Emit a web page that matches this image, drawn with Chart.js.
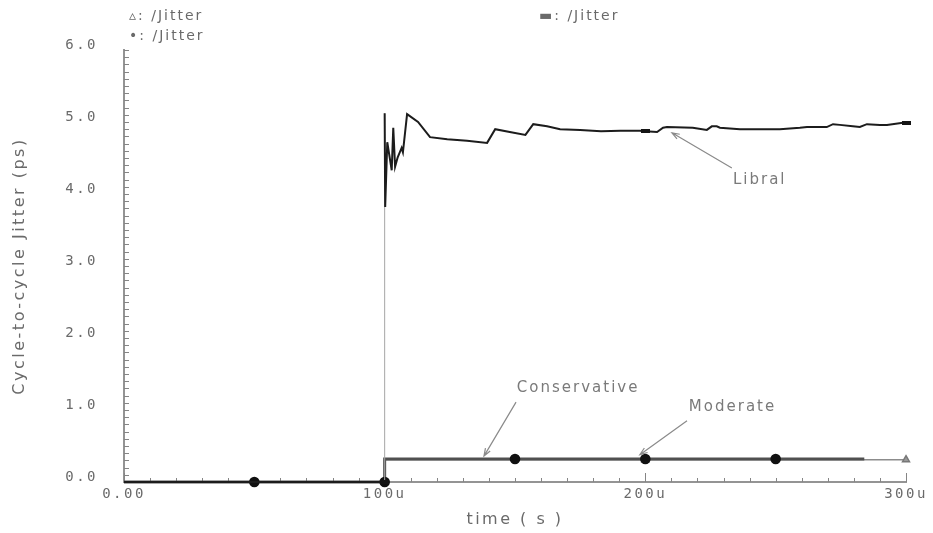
<!DOCTYPE html>
<html>
<head>
<meta charset="utf-8">
<script src="https://cdn.jsdelivr.net/npm/chart.js@4.4.1/dist/chart.umd.min.js"></script>
<style>
  html, body { margin: 0; background: #fff; }
  canvas { display: block; }
</style>
</head>
<body>
<canvas id="jitter" width="933" height="533"></canvas>
<script>
// time in microseconds, jitter in ps
const libralTime = [0, 100, 100, 100.2, 101, 102.7, 103.3, 104, 105, 106.5,
  107, 108.6, 112.8, 117.4, 124, 131.6, 139.3, 142.4, 148, 154,
  157, 162.3, 167.3, 175, 183, 190.5, 198, 200, 204.5, 206.8,
  208.3, 218.2, 223.6, 225.5, 227.4, 228.6, 236.3, 245.1, 251.6, 259.3,
  262, 269.6, 272, 274.6, 279.6, 282.3, 285, 290, 292.7, 298.8,
  300];
const libralJitter = [0, 0, 5.12, 3.82, 4.72, 4.33, 4.92, 4.38, 4.51, 4.64,
  4.58, 5.11, 5.0, 4.79, 4.76, 4.74, 4.71, 4.90, 4.86, 4.82,
  4.97, 4.94, 4.90, 4.89, 4.87, 4.88, 4.88, 4.87, 4.86, 4.92,
  4.93, 4.92, 4.89, 4.94, 4.94, 4.92, 4.90, 4.90, 4.90, 4.92,
  4.93, 4.93, 4.97, 4.96, 4.94, 4.93, 4.97, 4.96, 4.96, 4.99,
  4.99];
const libralMarks = [100, 200, 300];

const moderateTime = [0, 50, 100, 100, 150, 200, 250, 284];
const moderateJitter = [0, 0, 0, 0.32, 0.32, 0.32, 0.32, 0.32];
const moderateMarks = [50, 100, 150, 200, 250];

const conservativeTime = [0, 100, 100, 200, 300];
const conservativeJitter = [0, 0, 0.31, 0.31, 0.31];
const conservativeMarks = [100, 200, 300];

const yTicks = [0, 1, 2, 3, 4, 5, 6];
const xTicks = [0, 100, 200, 300];

const TEXT = '#6a6a6a';
const AXIS = '#949494';

function pts(ts, vs) { return ts.map((t, i) => ({ x: t, y: vs[i] })); }

// marker only on the first sample at each marked time
function markAt(ts, marks, r) {
  return c => {
    const i = c.dataIndex, t = ts[i];
    return marks.includes(t) && ts.indexOf(t) === i ? r : 0;
  };
}

const dash = document.createElement('canvas');
dash.width = 9; dash.height = 4;
const dctx = dash.getContext('2d');
dctx.fillStyle = '#151515';
dctx.fillRect(0, 0, 9, 4);

const notes = [
  { text: 'Libral', tip: [210.2, 4.85], tail: [233.2, 4.36], at: [233.6, 4.19] },
  { text: 'Conservative', tip: [138.1, 0.36], tail: [150.4, 1.11], at: [150.7, 1.31] },
  { text: 'Moderate', tip: [197.9, 0.38], tail: [216, 0.85], at: [216.7, 1.04] }
];

const header = [
  { text: '\u25B5: /Jitter', x: 129, y: 16 },
  { text: '\u2022: /Jitter', x: 129, y: 36 },
  { text: '\u25AC: /Jitter', x: 539, y: 16 }
];

const spacing = {
  id: 'spacing',
  beforeDraw(chart) { chart.ctx.letterSpacing = '2.5px'; }
};

const tickMarks = {
  id: 'tickMarks',
  beforeDatasetsDraw(chart) {
    const { ctx, chartArea: a, scales: { x, y } } = chart;
    ctx.save();
    ctx.strokeStyle = '#858585';
    ctx.lineWidth = 1;
    ctx.beginPath();
    for (let i = 0; i <= 60; i++) {
      const py = Math.round(y.getPixelForValue(i / 10)) + 0.5;
      ctx.moveTo(a.left, py); ctx.lineTo(a.left + 5, py);
    }
    for (let i = 0; i <= 30; i++) {
      const px = Math.round(x.getPixelForValue(i * 10)) + 0.5;
      const len = i % 10 === 0 ? 9 : 4;
      ctx.moveTo(px, a.bottom); ctx.lineTo(px, a.bottom - len);
    }
    ctx.stroke();
    ctx.restore();
  }
};

const labels = {
  id: 'labels',
  afterDraw(chart) {
    const { ctx, scales: { x, y } } = chart;
    ctx.save();
    ctx.letterSpacing = '2px';
    ctx.textBaseline = 'middle';
    ctx.textAlign = 'left';

    ctx.fillStyle = TEXT;
    ctx.font = '14px "DejaVu Sans"';
    header.forEach(h => ctx.fillText(h.text, h.x, h.y));

    ctx.font = '15px "DejaVu Sans"';
    ctx.fillStyle = '#7a7a7a';
    ctx.strokeStyle = '#8a8a8a';
    ctx.lineWidth = 1.2;
    notes.forEach(n => {
      const tx = x.getPixelForValue(n.tip[0]), ty = y.getPixelForValue(n.tip[1]);
      const sx = x.getPixelForValue(n.tail[0]), sy = y.getPixelForValue(n.tail[1]);
      const ang = Math.atan2(sy - ty, sx - tx);
      ctx.beginPath();
      ctx.moveTo(sx, sy); ctx.lineTo(tx, ty);
      ctx.moveTo(tx + 8 * Math.cos(ang - 0.35), ty + 8 * Math.sin(ang - 0.35));
      ctx.lineTo(tx, ty);
      ctx.lineTo(tx + 8 * Math.cos(ang + 0.35), ty + 8 * Math.sin(ang + 0.35));
      ctx.stroke();
      ctx.fillText(n.text, x.getPixelForValue(n.at[0]), y.getPixelForValue(n.at[1]));
    });
    ctx.restore();
  }
};

const tickFont = { family: '"DejaVu Sans Mono"', size: 14 };
const titleFont = { family: '"DejaVu Sans"', size: 16 };

new Chart(document.getElementById('jitter'), {
  type: 'line',
  data: {
    datasets: [
      {
        label: 'Libral',
        data: pts(libralTime, libralJitter),
        borderColor: '#1c1c1c',
        borderWidth: 2,
        pointStyle: dash,
        pointRadius: markAt(libralTime, libralMarks, 4),
        segment: {
          borderColor: c => c.p0DataIndex === 1 ? '#a5a5a5' : undefined,
          borderWidth: c => c.p0DataIndex === 1 ? 1 : undefined
        },
        order: 0,
        clip: false
      },
      {
        label: 'Moderate',
        data: pts(moderateTime, moderateJitter),
        borderColor: '#505050',
        borderWidth: 3,
        pointStyle: 'circle',
        pointRadius: markAt(moderateTime, moderateMarks, 3.8),
        pointBackgroundColor: '#111',
        pointBorderColor: '#111',
        order: 1,
        clip: false
      },
      {
        label: 'Conservative',
        data: pts(conservativeTime, conservativeJitter),
        borderColor: '#8c8c8c',
        borderWidth: 1.5,
        pointStyle: 'triangle',
        pointRadius: markAt(conservativeTime, conservativeMarks, 4),
        pointBackgroundColor: '#999',
        pointBorderColor: '#777',
        order: 2,
        clip: false
      }
    ]
  },
  options: {
    responsive: false,
    animation: false,
    devicePixelRatio: 1,
    layout: { padding: { top: 50, right: 27, left: 0, bottom: 0 } },
    elements: { line: { tension: 0 } },
    plugins: { legend: { display: false }, tooltip: { enabled: false } },
    scales: {
      x: {
        type: 'linear', min: 0, max: 300,
        afterFit: s => { s.height = 51; },
        afterBuildTicks: s => { s.ticks = xTicks.map(v => ({ value: v })); },
        border: { display: true, color: AXIS, width: 2 },
        grid: { display: false, drawTicks: false },
        ticks: {
          padding: 4, color: TEXT, font: tickFont, maxRotation: 0, autoSkip: false,
          callback: v => v === 0 ? '0.00' : v + 'u'
        },
        title: {
          display: true, text: 'time ( s )', color: TEXT, font: titleFont,
          padding: { top: 0, bottom: 4 }
        }
      },
      y: {
        type: 'linear', min: 0, max: 6,
        afterFit: s => { s.width = 124; },
        afterBuildTicks: s => { s.ticks = yTicks.map(v => ({ value: v })); },
        border: { display: true, color: AXIS, width: 2 },
        grid: { display: false, drawTicks: false },
        ticks: {
          padding: 26, labelOffset: -5, color: TEXT, font: tickFont,
          callback: v => v.toFixed(1)
        },
        title: {
          display: true, text: 'Cycle-to-cycle Jitter (ps)', color: TEXT, font: titleFont,
          padding: { top: 10, bottom: 0 }
        }
      }
    }
  },
  plugins: [spacing, tickMarks, labels]
});
</script>
</body>
</html>
